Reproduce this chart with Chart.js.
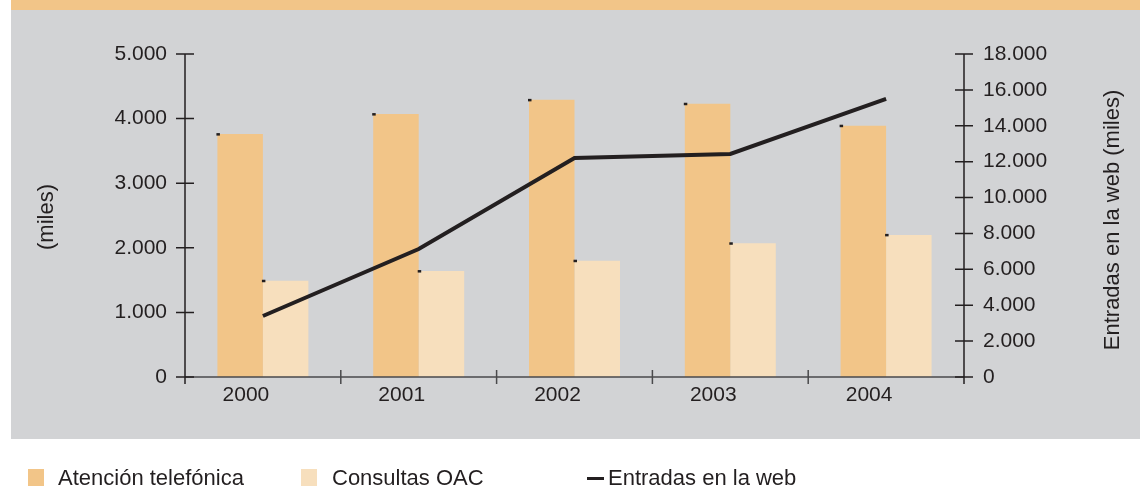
<!DOCTYPE html>
<html>
<head>
<meta charset="utf-8">
<script src="https://cdn.jsdelivr.net/npm/chart.js@4"></script>
<style>
    html, body { margin: 0; padding: 0; background: #ffffff; overflow: hidden; }
    body { width: 1140px; height: 486px; position: relative; font-family: "Liberation Sans", Arial, sans-serif; color: #231f20; }
    #band { position: absolute; left: 11px; top: 0; width: 1129px; height: 10px; background: #f2c588; }
    #panel { position: absolute; left: 11px; top: 10px; width: 1129px; height: 429px; background: #d2d3d5; }
    #chartBox { position: absolute; left: 0; top: 0; width: 1140px; height: 486px; }
    .legend { position: absolute; top: 467px; height: 22px; line-height: 22px; font-size: 22px; white-space: nowrap; }
    .swatch { position: absolute; top: 469px; width: 16px; height: 17px; }
    #lineKey { position: absolute; left: 587px; top: 477px; width: 17px; height: 3px; background: #231f20; }
</style>
</head>
<body>
<div id="band"></div>
<div id="panel"></div>
<div id="chartBox"><canvas id="oacChart"></canvas></div>

<div class="swatch" style="left:28px; background:#f2c588;"></div>
<div class="legend" style="left:58px;">Atención telefónica</div>
<div class="swatch" style="left:301px; background:#f7dfbd;"></div>
<div class="legend" style="left:332px;">Consultas OAC</div>
<div id="lineKey"></div>
<div class="legend" style="left:608px;">Entradas en la web</div>

<script>
// values (miles)
const years = ["2000", "2001", "2002", "2003", "2004"];
const atencionTelefonica = [3760, 4070, 4290, 4230, 3890];
const consultasOAC = [1490, 1640, 1800, 2070, 2200];
const entradasWeb = [3400, 7130, 12200, 12430, 15500];

const ink = "#231f20";

// thousands with a dot, like the original
function fmt(v) {
    return String(v).replace(/\B(?=(\d{3})+(?!\d))/g, ".");
}

// axis lines with ticks that cross them, drawn from the scales
const crossAxes = {
    id: "crossAxes",
    afterDatasetsDraw(chart) {
        const ctx = chart.ctx;
        const {left, right, top, bottom} = chart.chartArea;
        const x = chart.scales.x;
        const yL = chart.scales.y;
        const yR = chart.scales.y1;
        ctx.save();

        // x axis
        ctx.strokeStyle = "#4a4a4c";
        ctx.lineWidth = 1.5;
        ctx.beginPath();
        ctx.moveTo(left, bottom);
        ctx.lineTo(right, bottom);
        for (let i = 1; i < years.length; i++) {
            const px = x.getPixelForValue(i - 0.5);
            ctx.moveTo(px, bottom - 7);
            ctx.lineTo(px, bottom + 7);
        }
        ctx.stroke();

        // y axes
        ctx.strokeStyle = ink;
        ctx.beginPath();
        ctx.moveTo(left, top);
        ctx.lineTo(left, bottom + 7);
        ctx.moveTo(right, top);
        ctx.lineTo(right, bottom + 7);
        yL.ticks.forEach((t, i) => {
            const py = yL.getPixelForTick(i);
            ctx.moveTo(left - 9, py);
            ctx.lineTo(left + 9, py);
        });
        yR.ticks.forEach((t, i) => {
            const py = yR.getPixelForTick(i);
            ctx.moveTo(right - 9, py);
            ctx.lineTo(right + 9, py);
        });
        ctx.stroke();

        // little dark marks on the top-left corner of each bar
        ctx.fillStyle = ink;
        chart.data.datasets.forEach((ds, di) => {
            if (ds.type !== "bar") return;
            chart.getDatasetMeta(di).data.forEach(bar => {
                const p = bar.getProps(["x", "y", "width"], true);
                ctx.fillRect(p.x - p.width / 2 - 1, p.y - 1, 3.5, 2.5);
            });
        });
        ctx.restore();
    },
    afterDraw(chart) {
        const ctx = chart.ctx;
        ctx.save();
        ctx.fillStyle = ink;
        ctx.font = "22px 'Liberation Sans', Arial, sans-serif";
        ctx.textAlign = "center";
        ctx.textBaseline = "middle";

        ctx.translate(47, 217);
        ctx.rotate(-Math.PI / 2);
        ctx.fillText("(miles)", 0, 0);
        ctx.restore();

        ctx.save();
        ctx.fillStyle = ink;
        ctx.font = "22px 'Liberation Sans', Arial, sans-serif";
        ctx.textAlign = "center";
        ctx.textBaseline = "middle";
        ctx.translate(1113, 220);
        ctx.rotate(-Math.PI / 2);
        ctx.fillText("Entradas en la web (miles)", 0, 0);
        ctx.restore();
    }
};

Chart.defaults.font.family = "'Liberation Sans', Arial, sans-serif";
Chart.defaults.font.size = 21;
Chart.defaults.color = ink;

const ctx = document.getElementById("oacChart").getContext("2d");

new Chart(ctx, {
    data: {
        labels: years,
        datasets: [{
            type: "line",
            label: "Entradas en la web",
            data: entradasWeb,
            yAxisID: "y1",
            borderColor: ink,
            borderWidth: 4,
            pointRadius: 0,
            tension: 0,
            order: 0
        }, {
            type: "bar",
            label: "Atención telefónica",
            data: atencionTelefonica,
            yAxisID: "y",
            backgroundColor: "#f2c588",
            barPercentage: 1,
            categoryPercentage: 0.584,
            order: 1
        }, {
            type: "bar",
            label: "Consultas OAC",
            data: consultasOAC,
            yAxisID: "y",
            backgroundColor: "#f7dfbd",
            barPercentage: 1,
            categoryPercentage: 0.584,
            order: 1
        }]
    },
    options: {
        responsive: true,
        maintainAspectRatio: false,
        animation: false,
        layout: { padding: { top: 54, left: 0, right: 0, bottom: 0 } },
        plugins: {
            legend: { display: false },
            tooltip: { enabled: false }
        },
        scales: {
            x: {
                grid: { display: false, drawTicks: false },
                border: { display: false },
                ticks: { padding: 6, labelOffset: -17, maxRotation: 0 },
                afterFit(scale) { scale.height = 109; }
            },
            y: {
                position: "left",
                min: 0,
                max: 5000,
                grid: { display: false, drawTicks: false },
                border: { display: false },
                ticks: { stepSize: 1000, padding: 18, callback: v => fmt(v) },
                afterFit(scale) { scale.width = 185; }
            },
            y1: {
                position: "right",
                min: 0,
                max: 18000,
                grid: { display: false, drawTicks: false },
                border: { display: false },
                ticks: { stepSize: 2000, padding: 19, callback: v => fmt(v) },
                afterFit(scale) { scale.width = 176; }
            }
        }
    },
    plugins: [crossAxes]
});
</script>
</body>
</html>
